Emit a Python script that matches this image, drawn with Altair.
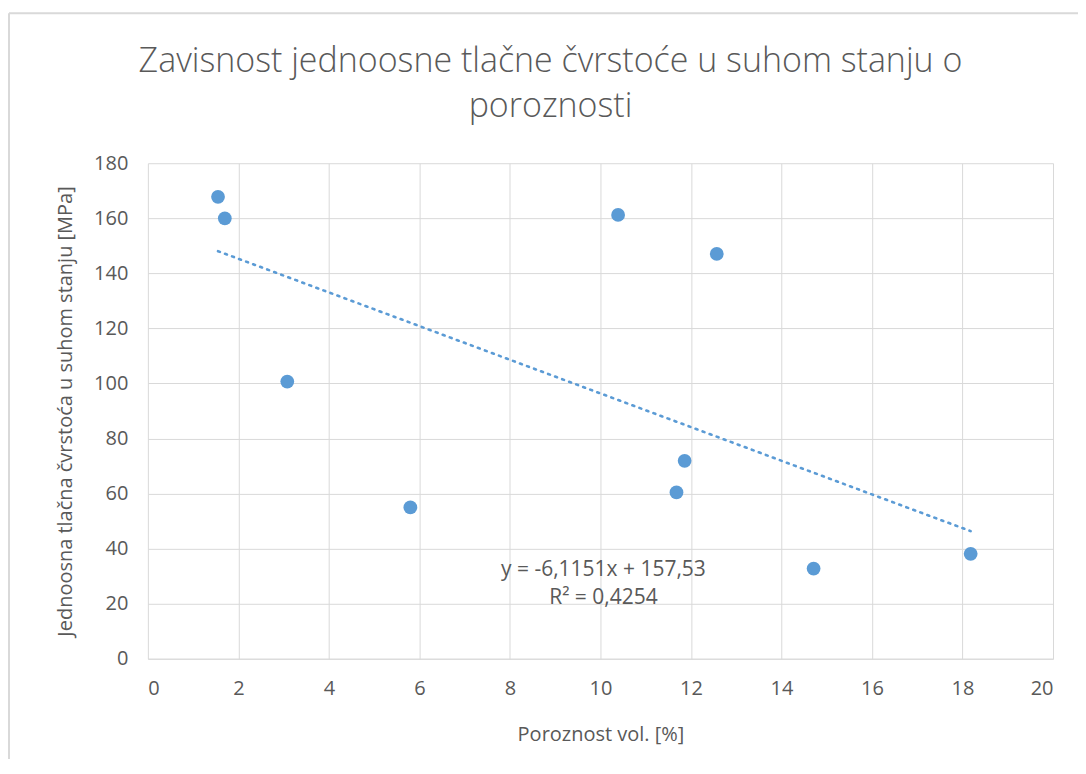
import altair as alt
import pandas as pd

# data
porosity = [1.55, 1.70, 3.08, 5.80, 10.39, 11.68, 11.86, 12.57, 14.71, 18.18]
strength = [167.8, 160.0, 100.7, 55.0, 161.2, 60.4, 71.9, 147.1, 32.75, 38.1]
slope = -6.1151
intercept = 157.53
eq_lines = ["y = -6,1151x + 157,53", "R² = 0,4254"]

title_lines = ["Zavisnost jednoosne tlačne čvrstoće u suhom stanju o", "poroznosti"]
x_title = "Poroznost vol. [%]"
y_title = "Jednoosna tlačna čvrstoća u suhom stanju [MPa]"

df = pd.DataFrame({"x": porosity, "y": strength})
one = pd.DataFrame({"t": [eq_lines[0]], "t2": [eq_lines[1]],
                    "h1": [title_lines[0]], "h2": [title_lines[1]]})

BLUE = "#5b9bd5"
GREY = "#595959"
GRID = "#d9d9d9"
FONT = "Open Sans"

xs = alt.Scale(domain=[0, 20], nice=False)
ys = alt.Scale(domain=[0, 180], nice=False)

base = alt.Chart(df)

points = base.mark_circle(size=190, opacity=1, color=BLUE).encode(
    x=alt.X("x:Q", scale=xs, title=x_title,
            axis=alt.Axis(values=list(range(0, 21, 2)), grid=True)),
    y=alt.Y("y:Q", scale=ys, title=y_title,
            axis=alt.Axis(values=list(range(0, 181, 20)), grid=True)),
)

trend = base.transform_aggregate(
    xmin="min(x)", xmax="max(x)"
).transform_fold(["xmin", "xmax"], as_=["k", "xv"]).transform_calculate(
    yv=f"{intercept} + ({slope}) * datum.xv"
).mark_line(color=BLUE, strokeWidth=2.6, strokeDash=[2, 5.5], strokeCap="round").encode(
    x=alt.X("xv:Q", scale=xs),
    y=alt.Y("yv:Q", scale=ys),
)

def txt(field, x, y, size, weight="normal"):
    return alt.Chart(one).mark_text(
        font=FONT, fontSize=size, fontWeight=weight, color=GREY,
        align="center", baseline="alphabetic"
    ).encode(x=alt.value(x), y=alt.value(y), text=f"{field}:N")

eq1 = txt("t", 456, 413, 21)
eq2 = txt("t2", 456, 441, 21)
head1 = txt("h1", 403, -91, 34, 300)
head2 = txt("h2", 403, -46, 34, 300)

frame_top = alt.Chart(one).mark_rule(color=GRID, strokeWidth=2).encode(
    x=alt.value(-139), x2=alt.value(940), y=alt.value(-150))
frame_left = alt.Chart(one).mark_rule(color=GRID, strokeWidth=2).encode(
    x=alt.value(-139), y=alt.value(-150), y2=alt.value(620))

chart = alt.layer(frame_top, frame_left, trend, points, eq1, eq2, head1, head2).properties(
    width=906,
    height=496,
    autosize=alt.AutoSizeParams(type="none"),
    padding={"left": 140, "top": 155, "right": 25, "bottom": 100},
).configure_view(stroke=None).configure_axis(
    gridColor=GRID, domainColor=GRID, domainWidth=1, gridWidth=1, ticks=False,
    labelFont=FONT, labelFontSize=20, labelColor=GREY,
    titleFont=FONT, titleFontSize=20, titleColor=GREY, titleFontWeight="normal",
).configure_axisX(labelPadding=20, titlePadding=26, domain=True).configure_axisY(
    labelPadding=20, titlePadding=18, domain=False
)

chart.save("out.html", embed_options={"renderer": "svg", "actions": False})
